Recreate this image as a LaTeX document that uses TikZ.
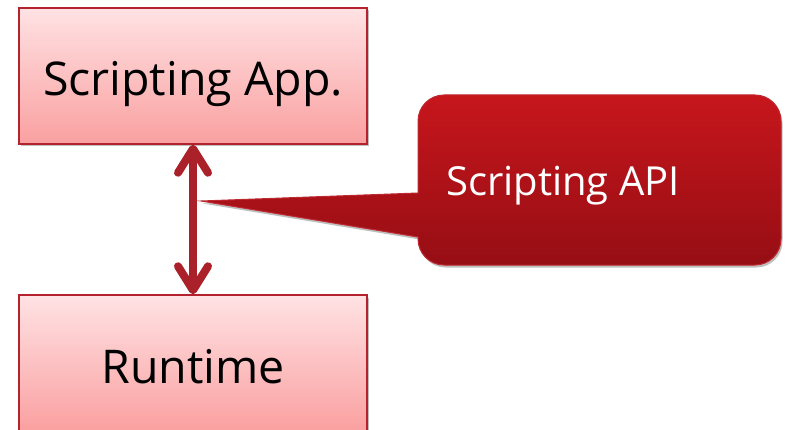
\documentclass[tikz,border=0pt]{standalone}
\usepackage{fontspec}
\setmainfont{Open Sans}
\usetikzlibrary{arrows.meta,shadows}
\definecolor{boxline}{RGB}{180,35,45}
\definecolor{boxtop}{RGB}{255,226,228}
\definecolor{boxbot}{RGB}{250,160,160}
\definecolor{arrowred}{RGB}{170,33,42}
\definecolor{calltop}{RGB}{198,22,28}
\definecolor{callbot}{RGB}{150,14,20}
\definecolor{callline}{RGB}{190,40,48}
\tikzset{
  layerbox/.style={draw=boxline, line width=1.5pt, top color=boxtop, bottom color=boxbot,
    minimum width=348pt, minimum height=136pt, inner sep=0pt,
    text height=40pt, text depth=0pt,
    font=\fontsize{46.5}{54}\selectfont, text=black,
    drop shadow={shadow xshift=1.5pt, shadow yshift=-2.5pt, opacity=0.25, fill=black}},
  link/.style={draw=arrowred, line width=8pt, line cap=round, line join=round,
    {Straight Barb[length=24pt,width=30pt,line cap=round,line join=round]}-{Straight Barb[length=24pt,width=30pt,line cap=round,line join=round]}},
  calloutshape/.style={draw=callline, line width=1pt, top color=calltop, bottom color=callbot,
    drop shadow={shadow xshift=1.5pt, shadow yshift=-2.5pt, opacity=0.25, fill=black}},
  calltext/.style={text=white, font=\fontsize{40}{46}\selectfont, anchor=base west, inner sep=0pt}
}
\begin{document}
\begin{tikzpicture}[x=1pt,y=-1pt]
\useasboundingbox (0,0) rectangle (786,430);
\node[layerbox] (app) at (193,76) {Scripting App.};
\node[layerbox] (rt) at (193,363) {Runtime};
\draw[link] (app.south) -- (rt.north);
\coordinate (tip) at (201,201);
\path[calloutshape] (tip) -- (418,193) {[rounded corners=26pt] -- (418,95) -- (781,95) -- (781,265) -- (418,265)} -- (418,237) -- cycle;
\node[calltext] (api) at (446,196) {Scripting API};
\end{tikzpicture}
\end{document}
